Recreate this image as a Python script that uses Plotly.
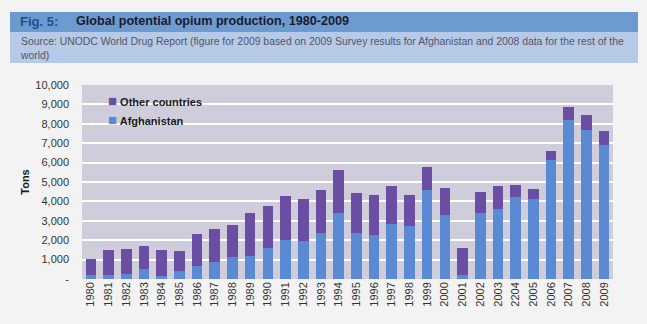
import plotly.graph_objects as go

years = ["1980", "1981", "1982", "1983", "1984", "1985", "1986", "1987", "1988", "1989",
         "1990", "1991", "1992", "1993", "1994", "1995", "1996", "1997", "1998", "1999",
         "2000", "2001", "2002", "2003", "2204", "2005", "2006", "2007", "2008", "2009"]
afghanistan = [200, 225, 275, 500, 140, 400, 650, 880, 1120, 1180,
               1590, 2000, 1970, 2350, 3420, 2350, 2260, 2820, 2710, 4570,
               3280, 200, 3380, 3610, 4220, 4110, 6110, 8200, 7700, 6920]
total = [1010, 1480, 1540, 1710, 1520, 1440, 2310, 2600, 2770, 3380,
         3740, 4260, 4120, 4600, 5620, 4440, 4340, 4800, 4340, 5760,
         4680, 1610, 4500, 4770, 4850, 4620, 6620, 8870, 8430, 7610]
other = [t - a for t, a in zip(total, afghanistan)]
ytick_vals = [0, 1000, 2000, 3000, 4000, 5000, 6000, 7000, 8000, 9000, 10000]
ytick_text = ["-", "1,000", "2,000", "3,000", "4,000", "5,000", "6,000", "7,000", "8,000", "9,000", "10,000"]

AFG_COLOR = "#5b8ad4"
OTHER_COLOR = "#6a4ea3"

W, H = 647, 324
L, R, T, B = 82, 613, 85, 279

def px(x):
    return (x - L) / (R - L)

def py(y):
    return (B - y) / (B - T)

fig = go.Figure()
fig.add_trace(go.Bar(x=years, y=afghanistan, name="Afghanistan", marker_color=AFG_COLOR,
                     marker_line_width=0, showlegend=False))
fig.add_trace(go.Bar(x=years, y=other, name="Other countries", marker_color=OTHER_COLOR,
                     marker_line_width=0, showlegend=False))
# legend entries (compact square glyph next to label, as in the original)
sq = '<span style="color:{c};font-size:15px">■</span> {t}'
fig.add_trace(go.Scatter(x=[None], y=[None], mode="markers", marker=dict(opacity=0, size=1),
                         name=sq.format(c=AFG_COLOR, t="Afghanistan")))
fig.add_trace(go.Scatter(x=[None], y=[None], mode="markers", marker=dict(opacity=0, size=1),
                         name=sq.format(c=OTHER_COLOR, t="Other countries")))

fig.update_layout(
    width=W, height=H,
    margin=dict(l=L, r=W - R, t=T, b=H - B),
    barmode="stack", bargap=0.4,
    paper_bgcolor="#f3f3f3", plot_bgcolor="#cfccdc",
    font=dict(family="Liberation Sans", size=11, color="#333333"),
    showlegend=True,
    legend=dict(x=px(68), y=py(87), xanchor="left", yanchor="top",
                traceorder="reversed", bgcolor="rgba(0,0,0,0)",
                font=dict(family="Liberation Sans", size=11, color="#1a1a1a", weight="bold"),
                itemwidth=30, tracegroupgap=0),
    xaxis=dict(type="category", tickangle=-90, showgrid=False, ticks="",
               tickfont=dict(size=11, color="#333333"), range=[-0.5, 29.5]),
    yaxis=dict(range=[0, 10000], tickvals=ytick_vals, ticktext=ytick_text,
               showgrid=True, gridcolor="#ffffff", gridwidth=1.5, zeroline=False,
               ticks="", ticklen=0, ticklabelstandoff=12,
               tickfont=dict(size=11, color="#333333"),
               title=dict(text="<b>Tons</b>", font=dict(size=11, color="#1a1a1a"), standoff=3)),
    shapes=[
        dict(type="rect", xref="paper", yref="paper", x0=px(10), x1=px(638), y0=py(32), y1=py(12),
             fillcolor="#6d9bd0", line_width=0, layer="below"),
        dict(type="rect", xref="paper", yref="paper", x0=px(10), x1=px(638), y0=py(63), y1=py(32),
             fillcolor="#b6c9e6", line_width=0, layer="below"),
    ],
    annotations=[
        dict(text="<b>Fig. 5:</b>", xref="paper", yref="paper", x=px(18), y=py(21),
             xanchor="left", yanchor="middle", showarrow=False,
             font=dict(family="Liberation Sans", size=13, color="#1f4c8c")),
        dict(text="<b>Global potential opium production, 1980-2009</b>", xref="paper", yref="paper",
             x=px(74), y=py(21), xanchor="left", yanchor="middle", showarrow=False,
             font=dict(family="Liberation Sans", size=12.6, color="#1a1a2e")),
        dict(text="Source: UNODC World Drug Report (figure for 2009 based on 2009 Survey results for Afghanistan and 2008 data for the rest of the<br>world)",
             xref="paper", yref="paper", x=px(18), y=py(34), xanchor="left", yanchor="top",
             align="left", showarrow=False,
             font=dict(family="Liberation Sans", size=10.4, color="#555566")),
    ],
)

fig.write_html("out.html")
